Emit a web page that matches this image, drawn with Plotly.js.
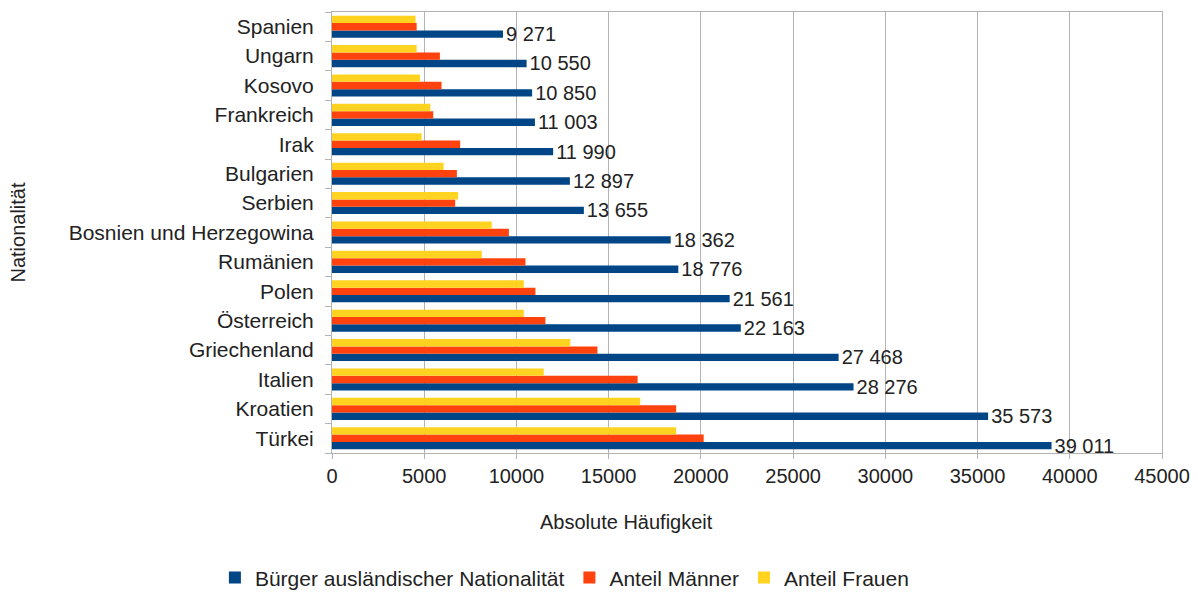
<!DOCTYPE html>
<html>
<head>
<meta charset="utf-8">
<script src="https://cdn.plot.ly/plotly-3.0.1.min.js"></script>
<style>
  html, body { margin: 0; padding: 0; background: #ffffff; }
  #chart { width: 1198px; height: 598px; }
</style>
</head>
<body>
<div id="chart"></div>
<script>
// Categories listed from bottom to top (Plotly draws the first category at the bottom)
const categories = ["Türkei", "Kroatien", "Italien", "Griechenland", "Österreich", "Polen",
  "Rumänien", "Bosnien und Herzegowina", "Serbien", "Bulgarien", "Irak", "Frankreich",
  "Kosovo", "Ungarn", "Spanien"];
const buerger = [39011, 35573, 28276, 27468, 22163, 21561, 18776, 18362, 13655, 12897, 11990, 11003, 10850, 10550, 9271];
const maenner = [20150, 18660, 16570, 14390, 11570, 11030, 10490, 9590, 6680, 6770, 6950, 5490, 5940, 5850, 4590];
const frauen  = [18660, 16710, 11480, 12920, 10400, 10400, 8120, 8660, 6840, 6050, 4860, 5330, 4770, 4590, 4530];
const seriesNames = ["Bürger ausländischer Nationalität", "Anteil Männer", "Anteil Frauen"];
const xTickVals = [0, 5000, 10000, 15000, 20000, 25000, 30000, 35000, 40000, 45000];
const xTitle = "Absolute Häufigkeit";
const yTitle = "Nationalität";

const FONT = "Liberation Sans, Arial, sans-serif";
const TXT = "#222222";
const GRID = "#b3b3b3";

const traces = [
  {
    type: "bar", orientation: "h", name: seriesNames[0],
    y: categories, x: buerger,
    marker: { color: "#004586" },
    texttemplate: "%{x:,d}", textposition: "outside", constraintext: "none",
    cliponaxis: false,
    textfont: { family: FONT, size: 20, color: TXT },
    hoverinfo: "x+y+name"
  },
  {
    type: "bar", orientation: "h", name: seriesNames[1],
    y: categories, x: maenner,
    marker: { color: "#ff420e" },
    hoverinfo: "x+y+name"
  },
  {
    type: "bar", orientation: "h", name: seriesNames[2],
    y: categories, x: frauen,
    marker: { color: "#ffd320" },
    hoverinfo: "x+y+name"
  }
];

const layout = {
  width: 1198, height: 598,
  margin: { l: 332, r: 36, t: 12, b: 145, autoexpand: false },
  paper_bgcolor: "#ffffff", plot_bgcolor: "#ffffff",
  font: { family: FONT, size: 20, color: TXT },
  separators: ", ",
  barmode: "group",
  bargap: 0.25, bargroupgap: 0,
  showlegend: true,
  legend: {
    orientation: "h", x: 0.28, xanchor: "center", y: -0.283, yanchor: "middle",
    font: { family: FONT, size: 21, color: TXT },
    traceorder: "normal", itemwidth: 30
  },
  xaxis: {
    range: [0, 45000], tickvals: xTickVals, ticktext: xTickVals.map(String),
    showgrid: true, gridcolor: GRID, gridwidth: 1,
    showline: true, linecolor: GRID, linewidth: 1, mirror: true,
    ticks: "outside", ticklen: 5, tickcolor: GRID,
    tickfont: { family: FONT, size: 20, color: TXT },
    zeroline: false, fixedrange: true, automargin: false
  },
  yaxis: {
    type: "category",
    showgrid: false,
    showline: true, linecolor: GRID, linewidth: 1, mirror: true,
    ticks: "outside", ticklen: 6, tickcolor: GRID, tickson: "boundaries",
    ticklabelstandoff: 13,
    tickfont: { family: FONT, size: 21, color: TXT },
    title: { text: yTitle, font: { family: FONT, size: 20, color: TXT }, standoff: 37 },
    fixedrange: true, automargin: false
  },
  annotations: [
    {
      text: xTitle, xref: "paper", yref: "paper",
      x: (626 - 332) / 830, y: (453 - 522) / 441,
      xanchor: "center", yanchor: "middle", showarrow: false,
      font: { family: FONT, size: 20, color: TXT }
    }
  ]
};

Plotly.newPlot("chart", traces, layout, { staticPlot: true, displayModeBar: false });
</script>
</body>
</html>
